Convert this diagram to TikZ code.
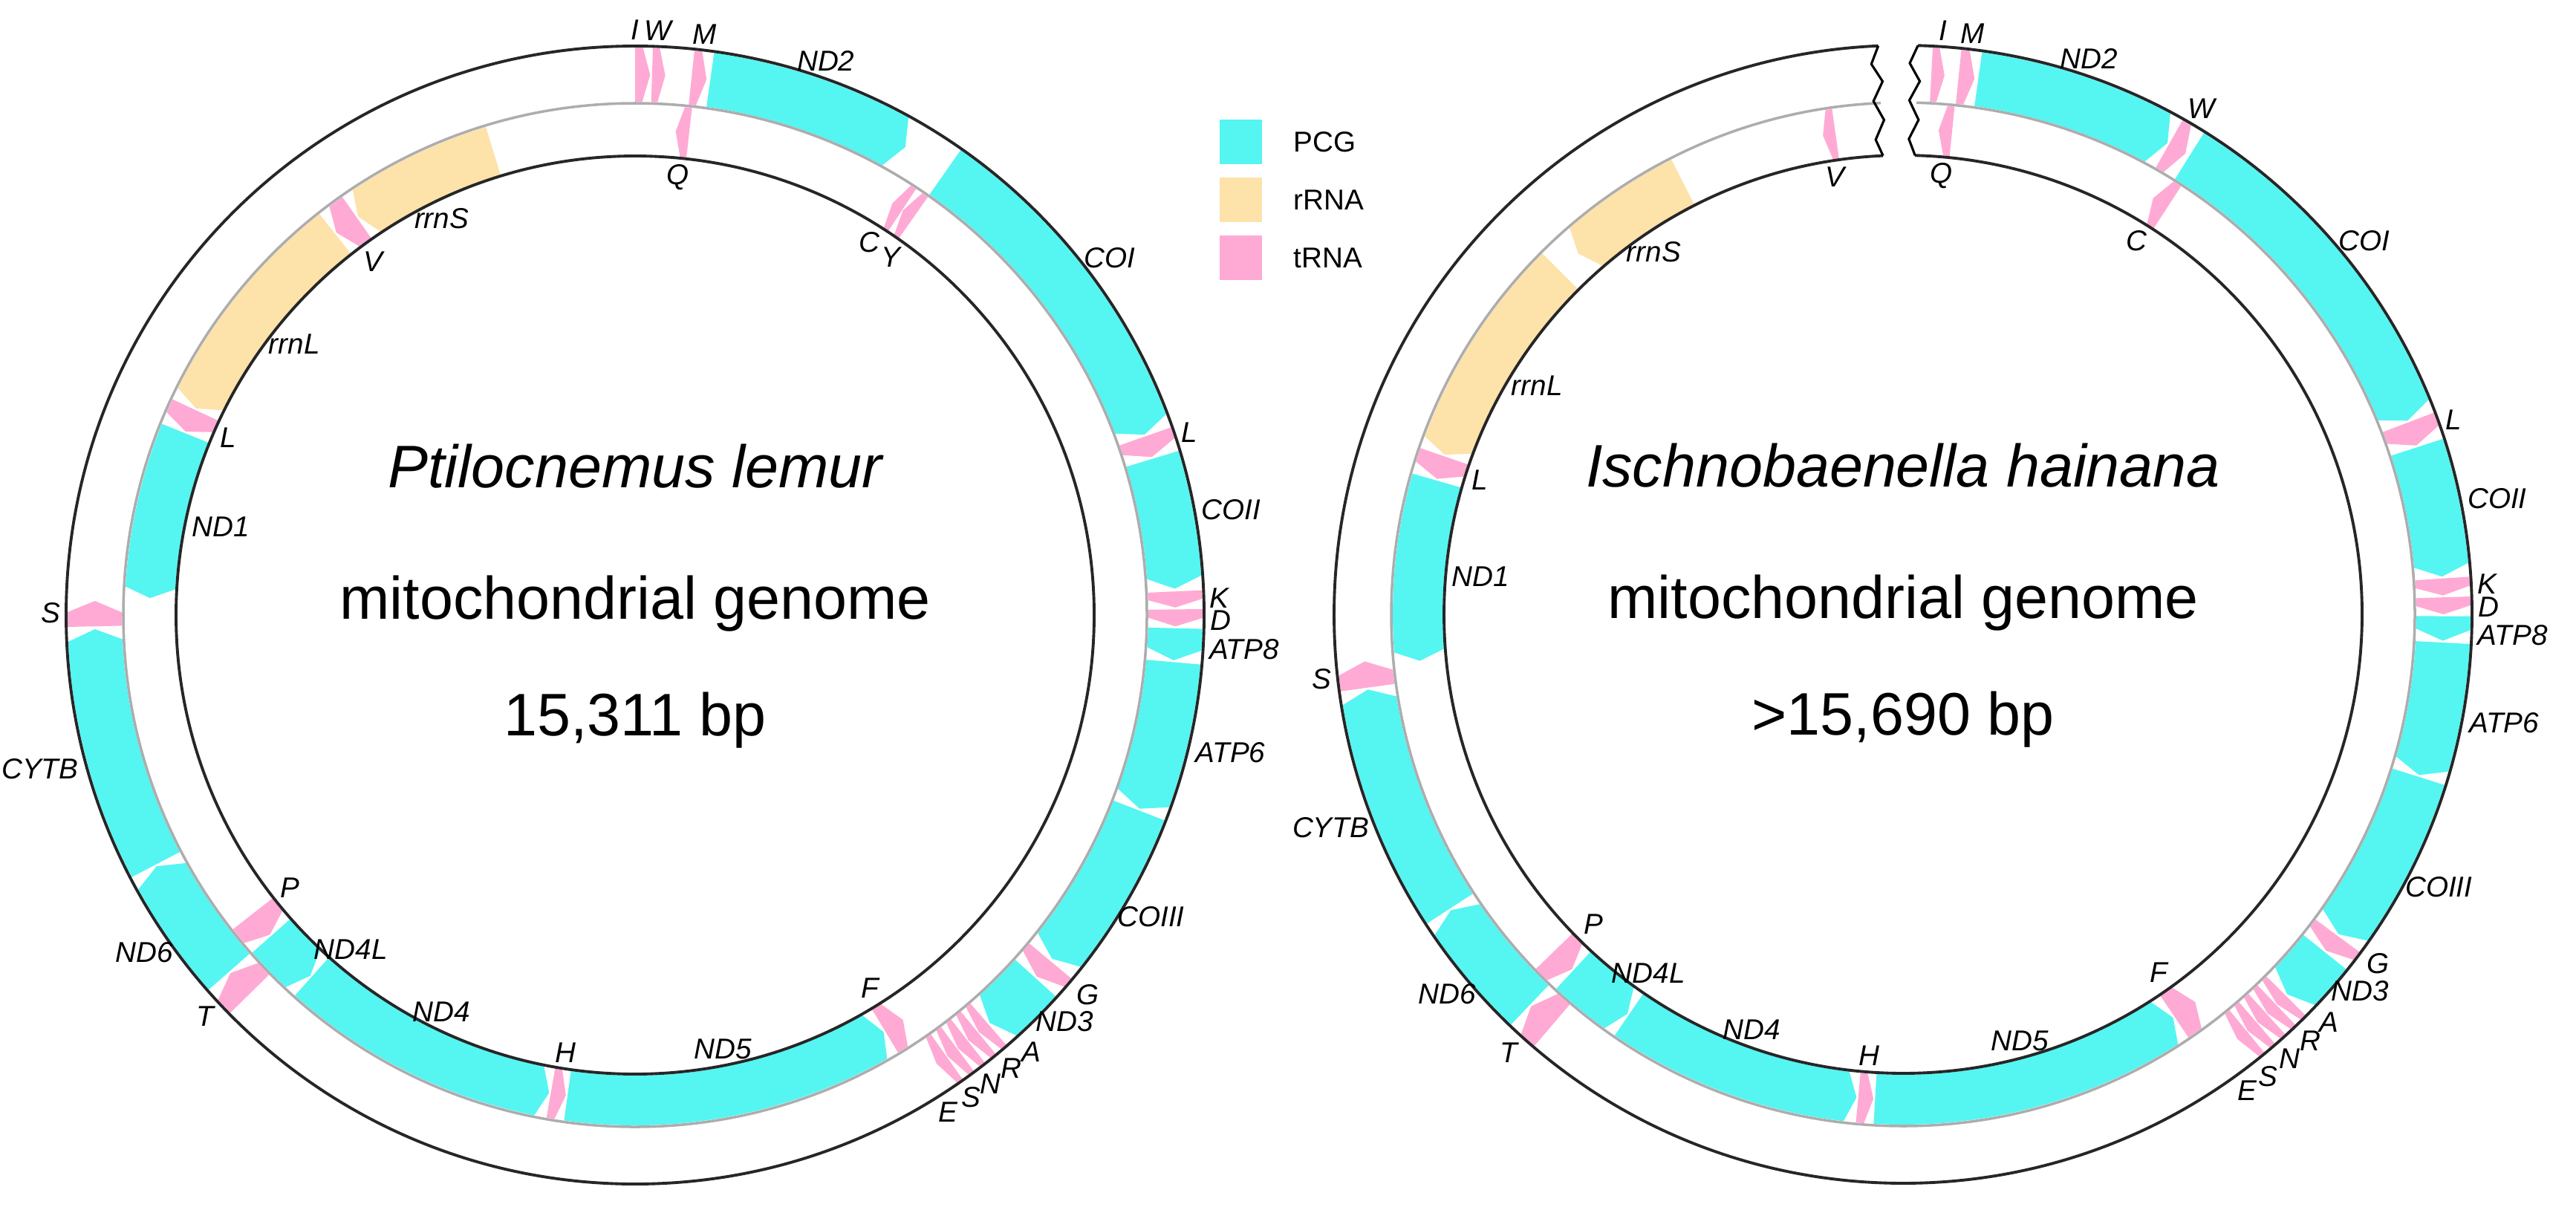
\documentclass[tikz,border=0pt]{standalone}
\usepackage{fontspec}
\setmainfont{Liberation Sans}
\usetikzlibrary{positioning}

\definecolor{pcg}{RGB}{85,245,242}
\definecolor{rrna}{RGB}{253,226,170}
\definecolor{trna}{RGB}{255,170,212}

% ring radii (cm)
\def\oin{6.91}\def\oout{7.64}
\def\iin{6.20}\def\iout{6.87}

% gene on the outer ring, pointing clockwise
\newcommand\gfwd[3]{%
  \pgfmathsetmacro\gd{min(1.2,0.5*(#3-#2))}%
  \pgfmathsetmacro\ga{90-#2}%
  \pgfmathsetmacro\gb{90-#3+\gd}%
  \pgfmathsetmacro\gt{90-#3}%
  \fill[#1] (\ga:\oin) arc[start angle=\ga, end angle=\gb, radius=\oin]
    -- (\gt:7.275) -- (\gb:\oout) arc[start angle=\gb, end angle=\ga, radius=\oout] -- cycle;}
% gene on the inner ring, pointing anticlockwise
\newcommand\grev[3]{%
  \pgfmathsetmacro\gd{min(1.2,0.5*(#3-#2))}%
  \pgfmathsetmacro\ga{90-#3}%
  \pgfmathsetmacro\gb{90-#2-\gd}%
  \pgfmathsetmacro\gt{90-#2}%
  \fill[#1] (\ga:\iin) arc[start angle=\ga, end angle=\gb, radius=\iin]
    -- (\gt:6.535) -- (\gb:\iout) arc[start angle=\gb, end angle=\ga, radius=\iout] -- cycle;}
% labels
\newcommand\olab[3]{%
  \pgfmathtruncatemacro\la{mod(270-#1+720,360)}%
  \node[lbl, anchor=\la] (\cn-#2) at ({90-#1}:7.70) {#3};}
\newcommand\ilab[3]{%
  \pgfmathtruncatemacro\la{mod(90-#1+720,360)}%
  \node[lbl, anchor=\la] (\cn-#2) at ({90-#1}:6.14) {#3};}

\tikzset{
  lbl/.style={font=\fontsize{11}{13}\selectfont\itshape, inner sep=1pt},
  ring/.style={line width=1.1pt, draw=black!85},
  mid ring/.style={line width=1pt, draw=black!32},
  title/.style={font=\fontsize{23}{27}\selectfont},
  key/.style={minimum width=0.57cm, minimum height=0.6cm, inner sep=0pt},
  keytext/.style={font=\fontsize{11}{13}\selectfont, right=0.3cm of #1}
}

\begin{document}
\begin{tikzpicture}
  \useasboundingbox (0,0) rectangle (34.68,-16.28);

  % ---- Ptilocnemus lemur
  \begin{scope}[shift={(8.55,-8.28)}]
    \def\cn{pl}
    \gfwd{trna}{0}{1.6}    \gfwd{trna}{1.8}{3.2}  \gfwd{trna}{6}{7.6}
    \gfwd{pcg}{8}{30}      \gfwd{pcg}{35}{70.5}   \gfwd{trna}{70.7}{73}
    \gfwd{pcg}{73.2}{87.2} \gfwd{trna}{87.5}{89.2} \gfwd{trna}{89.4}{91.2}
    \gfwd{pcg}{91.4}{94.8} \gfwd{pcg}{95}{111}    \gfwd{pcg}{111.2}{129.5}
    \gfwd{trna}{129.8}{132} \gfwd{pcg}{132.2}{139}
    \gfwd{trna}{139.2}{140.5} \gfwd{trna}{140.6}{141.9} \gfwd{trna}{142}{143.3}
    \gfwd{trna}{143.4}{144.7} \gfwd{trna}{144.8}{146.1}
    \gfwd{trna}{225.5}{228.5} \gfwd{pcg}{228.7}{242.3} \gfwd{pcg}{242.5}{268.5}
    \gfwd{trna}{268.8}{271.5}
    \grev{trna}{4.8}{6.4}   \grev{trna}{32}{33.4}  \grev{trna}{33.5}{35}
    \grev{trna}{146.5}{149} \grev{pcg}{149.2}{188} \grev{trna}{188.2}{190}
    \grev{pcg}{190.2}{221.8} \grev{pcg}{222}{228.6} \grev{trna}{228.8}{232}
    \grev{pcg}{272}{292}    \grev{trna}{292.2}{295} \grev{rrna}{295.2}{321.8}
    \grev{trna}{322}{325}   \grev{rrna}{325.2}{343}

    \draw[ring] (0,0) circle[radius=7.66];
    \draw[mid ring] (0,0) circle[radius=6.89];
    \draw[ring] (0,0) circle[radius=6.18];

    \olab{0}{I}{I}        \olab{2.2}{W}{W}      \olab{6.8}{M}{M}
    \olab{19}{ND2}{ND2}   \olab{53}{COI}{COI}   \olab{71.8}{L2}{L}
    \olab{80}{COII}{COII} \olab{88.3}{K}{K}     \olab{90.5}{D}{D}
    \olab{93.2}{ATP8}{ATP8} \olab{103}{ATP6}{ATP6} \olab{120.3}{COIII}{COIII}
    \olab{130}{G}{G}      \olab{133.4}{ND3}{ND3}
    \olab{137.8}{A}{A}    \olab{140.3}{R}{R}    \olab{142.8}{N}{N}
    \olab{145.1}{S2}{S}   \olab{147.8}{E}{E}
    \olab{227}{T}{T}      \olab{235.5}{ND6}{ND6} \olab{255.5}{CYTB}{CYTB}
    \olab{270.2}{S1}{S}
    \ilab{5.6}{Q}{Q}      \ilab{32.2}{C}{C}     \ilab{35.6}{Y}{Y}
    \ilab{147.8}{F}{F}    \ilab{168.6}{ND5}{ND5} \ilab{189.1}{H}{H}
    \ilab{206}{ND4}{ND4}  \ilab{220.4}{ND4L}{ND4L} \ilab{231.7}{P}{P}
    \ilab{282}{ND1}{ND1}  \ilab{293.6}{L1}{L}   \ilab{308.5}{rrnL}{rrnL}
    \ilab{323.5}{V}{V}    \ilab{334}{rrnS}{rrnS}

    \node[title, font=\fontsize{23}{27}\selectfont\itshape] (pl-name) at (0,2.0) {Ptilocnemus lemur};
    \node[title] (pl-mt) at (0,0.15) {mitochondrial genome};
    \node[title] (pl-bp) at (0,-1.42) {15,311 bp};
  \end{scope}

  % ---- Ischnobaenella hainana
  \begin{scope}[shift={(25.62,-8.27)}]
    \def\cn{ih}
    \gfwd{trna}{3}{4.4}     \gfwd{trna}{5.9}{7.6}  \gfwd{pcg}{8}{29.3}
    \gfwd{trna}{29.5}{31.5} \gfwd{pcg}{32}{69}     \gfwd{trna}{69.2}{71.8}
    \gfwd{pcg}{72}{86}      \gfwd{trna}{86.2}{88}  \gfwd{trna}{88.2}{90}
    \gfwd{pcg}{90.2}{92.8}  \gfwd{pcg}{93}{107.3}  \gfwd{pcg}{107.5}{126.3}
    \gfwd{trna}{126.5}{128.5} \gfwd{pcg}{128.7}{134.7}
    \gfwd{trna}{134.9}{136.2} \gfwd{trna}{136.3}{137.6} \gfwd{trna}{137.7}{139}
    \gfwd{trna}{139.1}{140.4} \gfwd{trna}{140.5}{141.8}
    \gfwd{trna}{220.5}{223.5} \gfwd{pcg}{223.7}{236.8} \gfwd{pcg}{237}{262}
    \gfwd{trna}{262.2}{265}
    \grev{trna}{4.2}{5.8}   \grev{trna}{31}{33}    \grev{trna}{143}{146}
    \grev{pcg}{146.2}{183.3} \grev{trna}{183.5}{185.3} \grev{pcg}{185.5}{214.4}
    \grev{pcg}{214.6}{222.8} \grev{trna}{223}{226}
    \grev{pcg}{264.5}{286}  \grev{trna}{286.2}{289} \grev{rrna}{289.2}{315}
    \grev{rrna}{318}{333}   \grev{trna}{350.5}{352}

    % circles, broken at the top
    \draw[ring] (88.5:7.66) arc[start angle=88.5, end angle=-267.5, radius=7.66];
    \draw[mid ring] (88.5:6.89) arc[start angle=88.5, end angle=-267.5, radius=6.89];
    \draw[ring] (88.5:6.18) arc[start angle=88.5, end angle=-267.5, radius=6.18];
    \draw[line width=0.9pt, line join=miter] (92.5:7.66) -- (93.3:7.42) -- (92.2:7.18)
      -- (93.3:6.92) -- (92.2:6.66) -- (93.3:6.40) -- (92.5:6.18);
    \draw[line width=0.9pt, line join=miter] (88.5:7.66) -- (89.3:7.42) -- (88.2:7.18)
      -- (89.3:6.92) -- (88.2:6.66) -- (89.3:6.40) -- (88.5:6.18);

    \olab{3.9}{I}{I}      \olab{6.8}{M}{M}      \olab{18.5}{ND2}{ND2}
    \olab{30.5}{W}{W}     \olab{51}{COI}{COI}   \olab{70.5}{L2}{L}
    \olab{79}{COII}{COII} \olab{87}{K}{K}       \olab{89.3}{D}{D}
    \olab{92}{ATP8}{ATP8} \olab{100.2}{ATP6}{ATP6} \olab{117}{COIII}{COIII}
    \olab{126.3}{G}{G}    \olab{129.5}{ND3}{ND3}
    \olab{133.8}{A}{A}    \olab{136.3}{R}{R}    \olab{139}{N}{N}
    \olab{141.7}{S2}{S}   \olab{144.1}{E}{E}
    \olab{222}{T}{T}      \olab{230.2}{ND6}{ND6} \olab{249.5}{CYTB}{CYTB}
    \olab{263.6}{S1}{S}
    \ilab{5}{Q}{Q}        \ilab{32}{C}{C}       \ilab{144.5}{F}{F}
    \ilab{164.7}{ND5}{ND5} \ilab{184.4}{H}{H}   \ilab{200}{ND4}{ND4}
    \ilab{215.4}{ND4L}{ND4L} \ilab{225}{P}{P}
    \ilab{275.2}{ND1}{ND1} \ilab{287.6}{L1}{L}  \ilab{302}{rrnL}{rrnL}
    \ilab{325.5}{rrnS}{rrnS} \ilab{351.2}{V}{V}

    \node[title, font=\fontsize{23}{27}\selectfont\itshape] (ih-name) at (0,2.0) {Ischnobaenella hainana};
    \node[title] (ih-mt) at (0,0.15) {mitochondrial genome};
    \node[title] (ih-bp) at (0,-1.42) {>15,690 bp};
  \end{scope}

  % ---- legend
  \node[key, fill=pcg]  (key-pcg)  at (16.70,-1.91) {};
  \node[key, fill=rrna] (key-rrna) at (16.70,-2.69) {};
  \node[key, fill=trna] (key-trna) at (16.70,-3.47) {};
  \node[keytext=key-pcg]  (txt-pcg)  {PCG};
  \node[keytext=key-rrna] (txt-rrna) {rRNA};
  \node[keytext=key-trna] (txt-trna) {tRNA};
\end{tikzpicture}
\end{document}
